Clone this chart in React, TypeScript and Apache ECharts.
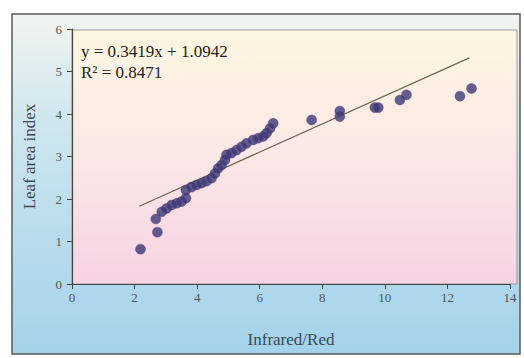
import React, { useEffect, useRef } from "react";
import * as echarts from "echarts";

const xTicks = [0, 2, 4, 6, 8, 10, 12, 14];
const yTicks = [0, 1, 2, 3, 4, 5, 6];

const ratioIR = [
  2.19, 2.73, 2.68, 2.87, 3.03, 3.19, 3.35, 3.5, 3.64, 3.64, 3.82, 3.98, 4.14, 4.3, 4.46,
  4.57, 4.67, 4.78, 4.89, 4.94, 5.1, 5.26, 5.42, 5.58, 5.79, 5.95, 6.11, 6.22, 6.33, 6.43,
  7.66, 8.56, 8.56, 9.68, 9.79, 10.48, 10.69, 12.4, 12.77,
];
const leafAreaIndex = [
  0.82, 1.22, 1.53, 1.7, 1.78, 1.86, 1.9, 1.94, 2.02, 2.21, 2.28, 2.33, 2.37, 2.42, 2.49,
  2.6, 2.72, 2.8, 2.92, 3.04, 3.08, 3.15, 3.23, 3.31, 3.39, 3.43, 3.47, 3.55, 3.66, 3.78,
  3.86, 4.07, 3.94, 4.15, 4.15, 4.33, 4.45, 4.42, 4.6,
];
const trendX = [2.15, 12.7];
const trendY = [1.83, 5.32];
const equationText = "y = 0.3419x + 1.0942";
const r2Text = "R\u00B2 = 0.8471";

export default function App() {
  const ref = useRef<HTMLDivElement>(null);
  useEffect(() => {
    if (!ref.current) return;
    const chart = echarts.init(ref.current, undefined, { renderer: "svg" });
    const serif = "'Liberation Serif', 'DejaVu Serif', serif";
    chart.setOption({
      animation: false,
      backgroundColor: "#ffffff",
      grid: { left: 72, right: 14, top: 29, bottom: 74 },
      graphic: [
        {
          type: "rect",
          z: -20,
          shape: { x: 12, y: 14, width: 508, height: 340 },
          style: {
            fill: new echarts.graphic.LinearGradient(0, 0, 0, 1, [
              { offset: 0, color: "#f3f5f1" },
              { offset: 0.3, color: "#cfe7ef" },
              { offset: 1, color: "#a3d2ea" },
            ]),
            stroke: "#5a5a5a",
            lineWidth: 1.5,
          },
        },
        {
          type: "rect",
          z: -10,
          shape: { x: 72, y: 30, width: 445, height: 254 },
          style: {
            fill: new echarts.graphic.LinearGradient(0, 0, 0, 1, [
              { offset: 0, color: "#fdf6e1" },
              { offset: 0.5, color: "#fae8e6" },
              { offset: 1, color: "#f7d3e4" },
            ]),
            stroke: "#9a9a9a",
            lineWidth: 1,
          },
        },
        {
          type: "text",
          left: 81,
          top: 43,
          style: { text: equationText, font: `17px ${serif}`, fill: "#222" },
        },
        {
          type: "text",
          left: 81,
          top: 64,
          style: { text: r2Text, font: `17px ${serif}`, fill: "#222" },
        },
      ],
      xAxis: {
        type: "value",
        min: 0,
        max: 14,
        interval: 2,
        name: "Infrared/Red",
        nameLocation: "middle",
        nameGap: 47,
        nameTextStyle: { fontFamily: serif, fontSize: 17, color: "#3a4a50" },
        axisLine: { lineStyle: { color: "#444", width: 1.2 } },
        axisTick: { show: true, length: 5, lineStyle: { color: "#444" } },
        axisLabel: {
          fontFamily: serif,
          fontSize: 13,
          color: "#555",
          margin: 7,
          formatter: (v: number) => (xTicks.includes(v) ? String(v) : ""),
        },
        splitLine: { show: false },
      },
      yAxis: {
        type: "value",
        min: 0,
        max: 6,
        interval: 1,
        name: "Leaf area index",
        nameLocation: "middle",
        nameGap: 34,
        nameTextStyle: { fontFamily: serif, fontSize: 17, color: "#3a4a50" },
        axisLine: { show: true, lineStyle: { color: "#444", width: 1.2 } },
        axisTick: { show: true, length: 5, lineStyle: { color: "#444" } },
        axisLabel: {
          fontFamily: serif,
          fontSize: 13,
          color: "#555",
          margin: 10,
          formatter: (v: number) => (yTicks.includes(v) ? String(v) : ""),
        },
        splitLine: { show: false },
      },
      series: [
        {
          type: "line",
          data: trendX.map((x, i) => [x, trendY[i]]),
          symbol: "none",
          lineStyle: { color: "#6a6a52", width: 1.2 },
          z: 2,
        },
        {
          type: "scatter",
          data: ratioIR.map((x, i) => [x, leafAreaIndex[i]]),
          symbolSize: 10,
          itemStyle: { color: "#3b3876", borderColor: "#5a3a78", borderWidth: 0.5 },
          z: 3,
        },
      ],
    });
    return () => chart.dispose();
  }, []);
  return (
    <div
      ref={ref}
      style={{ position: "fixed", left: 0, top: 0, width: 524, height: 358 }}
    />
  );
}
